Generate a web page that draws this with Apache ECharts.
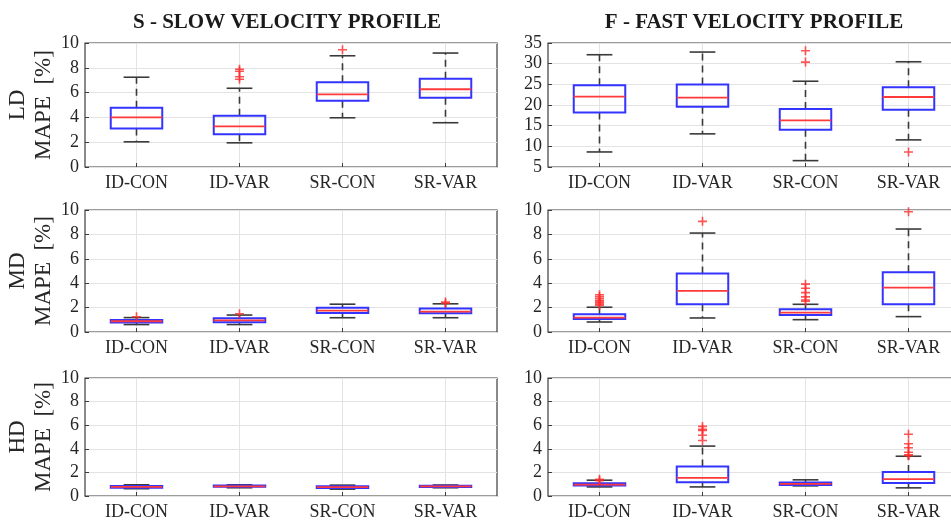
<!DOCTYPE html>
<html>
<head>
<meta charset="utf-8">
<script src="https://cdn.jsdelivr.net/npm/echarts@6/dist/echarts.min.js"></script>
<style>
  html, body { margin: 0; padding: 0; background: #fff; }
  #chart { width: 951px; height: 527px; }
</style>
</head>
<body>
<div id="chart"></div>
<script>
// categories on every x axis
const categories = ["ID-CON", "ID-VAR", "SR-CON", "SR-VAR"];

// box stats per category: [lower whisker, Q1, median, Q3, upper whisker]
const slowLD = [[2.03, 3.11, 4.0, 4.78, 7.24], [1.95, 2.65, 3.27, 4.14, 6.35], [3.97, 5.35, 5.86, 6.84, 8.97], [3.57, 5.59, 6.27, 7.11, 9.19]];
const slowLDOut = [[1, 7.88], [1, 7.72], [1, 7.28], [1, 7.08], [2, 9.46]];

const fastLD = [[8.64, 18.21, 22.02, 24.78, 32.16], [13.02, 19.59, 21.78, 24.94, 32.81], [6.54, 14.0, 16.27, 19.02, 25.75], [11.56, 18.86, 21.94, 24.29, 30.46]];
const fastLDOut = [[2, 33.13], [2, 30.38], [3, 8.64]];

const slowMD = [[0.61, 0.78, 0.88, 0.98, 1.18], [0.61, 0.8, 0.95, 1.12, 1.39], [1.17, 1.56, 1.75, 1.98, 2.28], [1.17, 1.53, 1.67, 1.92, 2.31]];
const slowMDOut = [[0, 1.25], [1, 1.5], [3, 2.45], [3, 2.36]];

const fastMD = [[0.82, 1.07, 1.18, 1.45, 2.03], [1.15, 2.27, 3.37, 4.79, 8.11], [1.01, 1.4, 1.59, 1.86, 2.27], [1.26, 2.27, 3.64, 4.9, 8.44]];
const fastMDOut = [[0, 3.05], [0, 2.9], [0, 2.75], [0, 2.6], [0, 2.5], [0, 2.4], [0, 2.3], [0, 2.2], [1, 9.07],
  [2, 3.92], [2, 3.59], [2, 3.23], [2, 2.88], [2, 2.62], [2, 2.52], [3, 9.86]];

const slowHD = [[0.62, 0.7, 0.78, 0.85, 0.95], [0.7, 0.78, 0.82, 0.88, 0.95], [0.58, 0.68, 0.76, 0.82, 0.92], [0.7, 0.77, 0.82, 0.86, 0.93]];
const slowHDOut = [];

const fastHD = [[0.77, 0.89, 0.97, 1.09, 1.34], [0.77, 1.17, 1.54, 2.49, 4.23], [0.86, 0.94, 1.03, 1.14, 1.37], [0.69, 1.11, 1.43, 2.03, 3.37]];
const fastHDOut = [[0, 1.42], [0, 1.3], [1, 5.9], [1, 5.65], [1, 5.55], [1, 5.15], [1, 4.7],
  [3, 5.23], [3, 4.43], [3, 4.09], [3, 3.71], [3, 3.49], [3, 3.42]];

// y axis ranges
const yRanges = { slowLD: [0, 10, 2], fastLD: [5, 35, 5], other: [0, 10, 2] };

const FONT = "Liberation Serif";
const chart = echarts.init(document.getElementById("chart"));

// box: blue rectangle, red median, dashed black whiskers with caps
function renderBox(params, api) {
  const x = api.value(0);
  const lo = api.coord([x, api.value(1)]);
  const q1 = api.coord([x, api.value(2)]);
  const md = api.coord([x, api.value(3)]);
  const q3 = api.coord([x, api.value(4)]);
  const hi = api.coord([x, api.value(5)]);
  const band = api.size([1, 0])[0];
  const bw = band * 0.5, cw = band * 0.25;
  const cx = lo[0];
  const wStyle = { stroke: "#3a3a3a", lineWidth: 1.6, lineDash: [7, 5] };
  const cStyle = { stroke: "#3a3a3a", lineWidth: 1.6 };
  return {
    type: "group",
    children: [
      { type: "line", shape: { x1: cx, y1: q3[1], x2: cx, y2: hi[1] }, style: wStyle },
      { type: "line", shape: { x1: cx, y1: q1[1], x2: cx, y2: lo[1] }, style: wStyle },
      { type: "line", shape: { x1: cx - cw / 2, y1: hi[1], x2: cx + cw / 2, y2: hi[1] }, style: cStyle },
      { type: "line", shape: { x1: cx - cw / 2, y1: lo[1], x2: cx + cw / 2, y2: lo[1] }, style: cStyle },
      { type: "rect", shape: { x: cx - bw / 2, y: q3[1], width: bw, height: q1[1] - q3[1] },
        style: { fill: "none", stroke: "#3434ff", lineWidth: 2 } },
      { type: "line", shape: { x1: cx - bw / 2, y1: md[1], x2: cx + bw / 2, y2: md[1] },
        style: { stroke: "#ff3a3a", lineWidth: 1.8 } }
    ]
  };
}

const panels = [
  { stats: slowLD, out: slowLDOut, left: 85, top: 43, height: 124, range: yRanges.slowLD, name: "LD\nMAPE  [%]" },
  { stats: fastLD, out: fastLDOut, left: 548, top: 43, height: 124, range: yRanges.fastLD, name: "" },
  { stats: slowMD, out: slowMDOut, left: 85, top: 210, height: 122, range: yRanges.other, name: "MD\nMAPE  [%]" },
  { stats: fastMD, out: fastMDOut, left: 548, top: 210, height: 122, range: yRanges.other, name: "" },
  { stats: slowHD, out: slowHDOut, left: 85, top: 378, height: 118, range: yRanges.other, name: "HD\nMAPE  [%]" },
  { stats: fastHD, out: fastHDOut, left: 548, top: 378, height: 118, range: yRanges.other, name: "" }
];

const plus = "path://M4.1,0H5.9V4.1H10V5.9H5.9V10H4.1V5.9H0V4.1H4.1Z";

const grid = [], xAxis = [], yAxis = [], series = [];
panels.forEach((p, i) => {
  const g = { left: p.left, top: p.top, height: p.height, show: true,
    borderColor: "#3c3c3c", borderWidth: 1.2, containLabel: false, outerBoundsMode: "none" };
  if (p.left > 400) g.right = -9; else g.width = 412;
  grid.push(g);
  xAxis.push({
    type: "category", gridIndex: i, data: categories,
    axisLine: { show: false },
    axisTick: { show: true, inside: true, alignWithLabel: true, length: 4, lineStyle: { color: "#3c3c3c" } },
    axisLabel: { fontFamily: FONT, fontSize: 18, color: "#262626", margin: 7 },
    splitLine: { show: true, alignWithLabel: true, lineStyle: { color: "#e3e3e3", width: 1 } }
  });
  yAxis.push({
    type: "value", gridIndex: i, min: p.range[0], max: p.range[1], interval: p.range[2],
    axisLine: { show: false },
    axisTick: { show: true, inside: true, length: 4, lineStyle: { color: "#3c3c3c" } },
    axisLabel: { fontFamily: FONT, fontSize: 18, color: "#262626", margin: 6 },
    splitLine: { show: true, lineStyle: { color: "#e3e3e3", width: 1 } },
    name: p.name, nameLocation: "middle", nameGap: 28, nameRotate: 90,
    nameTextStyle: { fontFamily: FONT, fontSize: 23, color: "#262626", lineHeight: 26 }
  });
  series.push({
    type: "custom", xAxisIndex: i, yAxisIndex: i, renderItem: renderBox,
    data: p.stats.map((s, k) => [k].concat(s)),
    encode: { x: 0, y: [1, 2, 3, 4, 5] }, z: 2
  });
  series.push({
    type: "scatter", xAxisIndex: i, yAxisIndex: i, data: p.out,
    symbol: plus, symbolSize: 9, itemStyle: { color: "#ff2a2a" }, z: 3, silent: true
  });
});

const option = {
  animation: false,
  title: [
    { text: "S - SLOW VELOCITY PROFILE", left: 282, top: 7, textAlign: "center",
      textStyle: { fontFamily: FONT, fontSize: 21, fontWeight: "bold", color: "#1a1a1a" } },
    { text: "F - FAST VELOCITY PROFILE", left: 749, top: 7, textAlign: "center",
      textStyle: { fontFamily: FONT, fontSize: 21, fontWeight: "bold", color: "#1a1a1a" } }
  ],
  grid: grid,
  xAxis: xAxis,
  yAxis: yAxis,
  series: series
};

chart.setOption(option);
</script>
</body>
</html>
